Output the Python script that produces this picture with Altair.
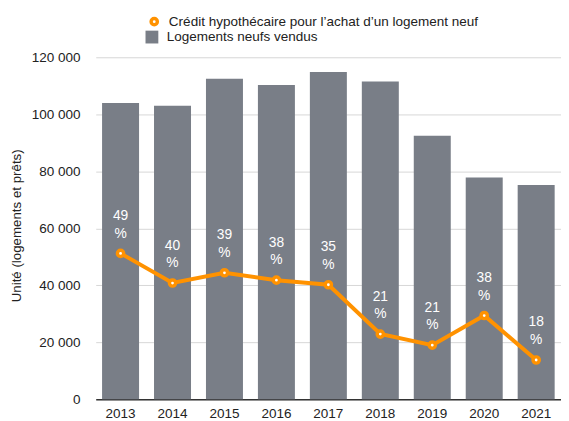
import altair as alt
import pandas as pd

years = ["2013", "2014", "2015", "2016", "2017", "2018", "2019", "2020", "2021"]
logements = [104000, 103000, 112500, 110300, 114800, 111500, 92500, 77800, 75200]
credit = [51200, 40800, 44400, 41800, 40200, 22900, 19000, 29400, 13800]
pct_labels = ["49", "40", "39", "38", "35", "21", "21", "38", "18"]

S_BAR = "Logements neufs vendus"
S_LINE = "Crédit hypothécaire pour l\u2019achat d\u2019un logement neuf"

GRAY = "#797e87"
ORANGE = "#ff9200"
FONT = "Liberation Sans"
TXT = "#222222"
FS = 13.7

df = pd.DataFrame({
    "year": years,
    "logements": logements,
    "credit": credit,
    "label": [p + "\n%" for p in pct_labels],
    "sb": [S_BAR] * len(years),
    "sl": [S_LINE] * len(years),
})

x = alt.X("year:N", title=None,
          scale=alt.Scale(paddingInner=0.288, paddingOuter=0.122),
          axis=alt.Axis(labelAngle=0, ticks=False, labelPadding=7, domainColor="#333333",
                        domainWidth=1.5, labelFontSize=FS, labelColor=TXT, labelFont=FONT))

yscale = alt.Scale(domain=[0, 120000], nice=False)

base = alt.Chart(df)

bars = base.mark_bar().encode(
    x=x,
    y=alt.Y("logements:Q", scale=yscale,
            title="Unité (logements et prêts)",
            axis=alt.Axis(values=[0, 20000, 40000, 60000, 80000, 100000, 120000],
                          labelExpr="replace(format(datum.value, ','), ',', ' ')",
                          ticks=False, domain=False, labelPadding=16,
                          gridColor="#d6d6d6", gridWidth=1,
                          labelFontSize=FS, labelColor=TXT, labelFont=FONT,
                          titleFontSize=13.5, titleFontWeight="normal", titleColor=TXT,
                          titleFont=FONT, titleX=-80, titleY=170.5, titleAlign="center",
                          titleBaseline="middle", titleAngle=-90)),
    fill=alt.Fill("sb:N", scale=alt.Scale(domain=[S_BAR], range=[GRAY]),
                  legend=alt.Legend(title=None, orient="none", legendX=49.5, legendY=-28,
                                    symbolType="square", symbolSize=169, labelOffset=7.5,
                                    labelLimit=0,
                                    labelFontSize=FS, labelColor=TXT, labelFont=FONT)),
)

line = base.mark_line(color=ORANGE, strokeWidth=4).encode(
    x=x, y=alt.Y("credit:Q", scale=yscale)
)

points = base.mark_point(shape="circle", fill="white", filled=False, strokeWidth=3.5,
                         size=40, opacity=1, fillOpacity=1).encode(
    x=x, y=alt.Y("credit:Q", scale=yscale),
    stroke=alt.Stroke("sl:N", scale=alt.Scale(domain=[S_LINE], range=[ORANGE]),
                      legend=alt.Legend(title=None, orient="none", legendX=52.5, legendY=-43,
                                        symbolType="circle", symbolSize=40, labelOffset=8,
                                        labelLimit=0,
                                        symbolFillColor="white", symbolStrokeWidth=3.5,
                                        labelFontSize=FS, labelColor=TXT, labelFont=FONT)),
)

texts = base.mark_text(color="white", fontSize=14, font=FONT, lineBreak="\n",
                       lineHeight=18, baseline="bottom", dy=-31).encode(
    x=x, y=alt.Y("credit:Q", scale=yscale), text="label:N"
)

chart = alt.layer(bars, line, points, texts).resolve_legend(fill="independent", stroke="independent").properties(
    width=472, height=347,
    autosize=alt.AutoSizeParams(type="none"),
    padding={"left": 89, "top": 47, "right": 0, "bottom": 19},
).configure_view(stroke=None)

chart.save("out.html", embed_options={"renderer": "svg", "actions": False})
